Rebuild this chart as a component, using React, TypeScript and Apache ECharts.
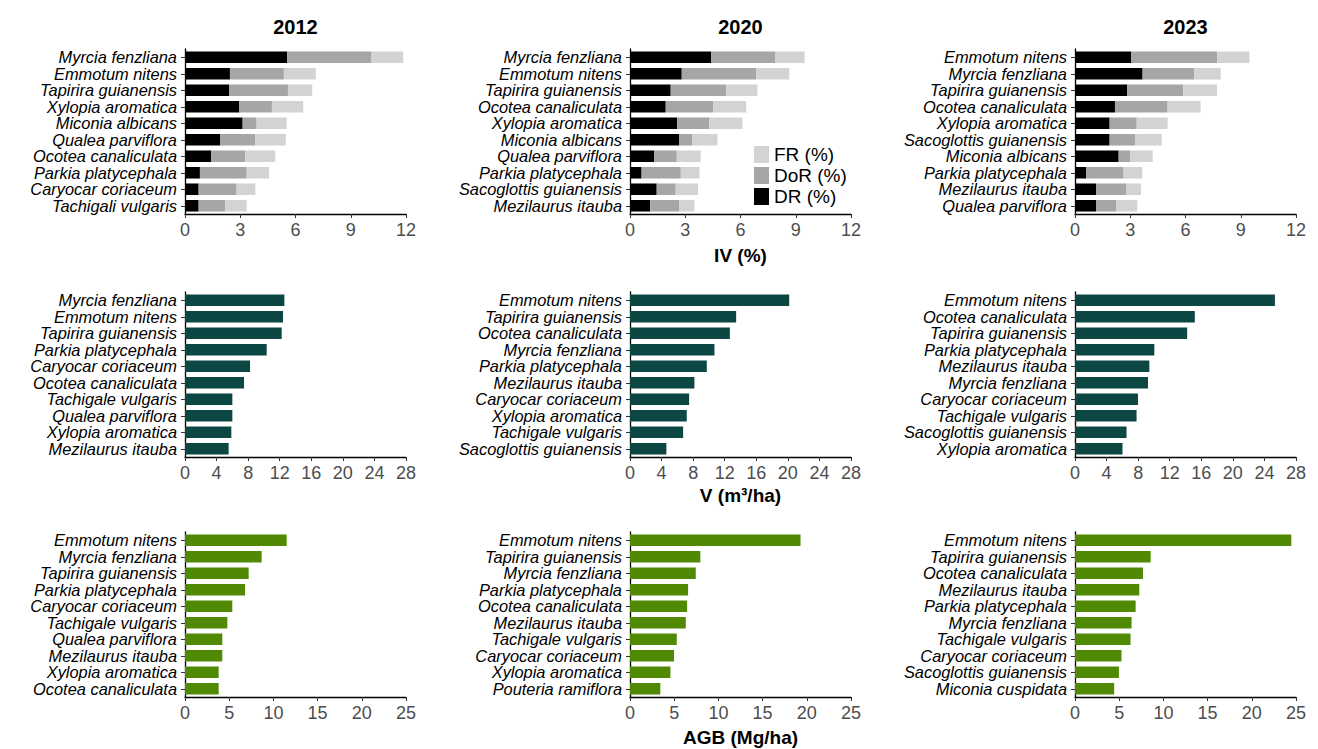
import React, { useEffect, useRef } from "react";
import * as echarts from "echarts";

// ---------- DATA ----------
const years = ["2012", "2020", "2023"];

// IV (%) panels: DR, DoR, FR components
const ivSpecies2012 = ["Myrcia fenzliana", "Emmotum nitens", "Tapirira guianensis", "Xylopia aromatica", "Miconia albicans", "Qualea parviflora", "Ocotea canaliculata", "Parkia platycephala", "Caryocar coriaceum", "Tachigali vulgaris"];
const dr2012 = [5.55, 2.44, 2.39, 2.95, 3.13, 1.92, 1.43, 0.81, 0.74, 0.74];
const dor2012 = [4.58, 2.93, 3.2, 1.77, 0.76, 1.9, 1.84, 2.54, 2.06, 1.45];
const fr2012 = [1.72, 1.73, 1.32, 1.7, 1.63, 1.65, 1.63, 1.21, 1.02, 1.16];

const ivSpecies2020 = ["Myrcia fenzliana", "Emmotum nitens", "Tapirira guianensis", "Ocotea canaliculata", "Xylopia aromatica", "Miconia albicans", "Qualea parviflora", "Parkia platycephala", "Sacoglottis guianensis", "Mezilaurus itauba"];
const dr2020 = [4.4, 2.81, 2.21, 1.94, 2.56, 2.68, 1.32, 0.63, 1.45, 1.1];
const dor2020 = [3.5, 4.04, 3.01, 2.59, 1.75, 0.71, 1.22, 2.13, 1.03, 1.58];
const fr2020 = [1.58, 1.8, 1.7, 1.78, 1.8, 1.36, 1.3, 1.01, 1.22, 0.82];

const ivSpecies2023 = ["Emmotum nitens", "Myrcia fenzliana", "Tapirira guianensis", "Ocotea canaliculata", "Xylopia aromatica", "Sacoglottis guianensis", "Miconia albicans", "Parkia platycephala", "Mezilaurus itauba", "Qualea parviflora"];
const dr2023 = [3.06, 3.67, 2.84, 2.17, 1.88, 1.88, 2.37, 0.6, 1.14, 1.14];
const dor2023 = [4.67, 2.81, 3.04, 2.86, 1.47, 1.38, 0.62, 2.04, 1.63, 1.09];
const fr2023 = [1.74, 1.43, 1.83, 1.79, 1.68, 1.45, 1.23, 1.01, 0.81, 1.15];

// V (m³/ha)
const vSpecies2012 = ["Myrcia fenzliana", "Emmotum nitens", "Tapirira guianensis", "Parkia platycephala", "Caryocar coriaceum", "Ocotea canaliculata", "Tachigale vulgaris", "Qualea parviflora", "Xylopia aromatica", "Mezilaurus itauba"];
const v2012 = [12.59, 12.42, 12.25, 10.35, 8.24, 7.48, 6.0, 6.0, 5.87, 5.53];
const vSpecies2020 = ["Emmotum nitens", "Tapirira guianensis", "Ocotea canaliculata", "Myrcia fenzliana", "Parkia platycephala", "Mezilaurus itauba", "Caryocar coriaceum", "Xylopia aromatica", "Tachigale vulgaris", "Sacoglottis guianensis"];
const v2020 = [20.17, 13.45, 12.65, 10.7, 9.73, 8.16, 7.49, 7.19, 6.73, 4.61];
const vSpecies2023 = ["Emmotum nitens", "Ocotea canaliculata", "Tapirira guianensis", "Parkia platycephala", "Mezilaurus itauba", "Myrcia fenzliana", "Caryocar coriaceum", "Tachigale vulgaris", "Sacoglottis guianensis", "Xylopia aromatica"];
const v2023 = [25.33, 15.18, 14.21, 10.05, 9.42, 9.25, 7.98, 7.8, 6.53, 6.02];

// AGB (Mg/ha)
const agbSpecies2012 = ["Emmotum nitens", "Myrcia fenzliana", "Tapirira guianensis", "Parkia platycephala", "Caryocar coriaceum", "Tachigale vulgaris", "Qualea parviflora", "Mezilaurus itauba", "Xylopia aromatica", "Ocotea canaliculata"];
const agb2012 = [11.5, 8.67, 7.2, 6.79, 5.35, 4.79, 4.22, 4.22, 3.81, 3.81];
const agbSpecies2020 = ["Emmotum nitens", "Tapirira guianensis", "Myrcia fenzliana", "Parkia platycephala", "Ocotea canaliculata", "Mezilaurus itauba", "Tachigale vulgaris", "Caryocar coriaceum", "Xylopia aromatica", "Pouteria ramiflora"];
const agb2020 = [19.29, 7.96, 7.44, 6.57, 6.46, 6.31, 5.29, 4.98, 4.57, 3.43];
const agbSpecies2023 = ["Emmotum nitens", "Tapirira guianensis", "Ocotea canaliculata", "Mezilaurus itauba", "Parkia platycephala", "Myrcia fenzliana", "Tachigale vulgaris", "Caryocar coriaceum", "Sacoglottis guianensis", "Miconia cuspidata"];
const agb2023 = [24.47, 8.56, 7.69, 7.27, 6.86, 6.4, 6.28, 5.26, 4.97, 4.43];

const axisTitles = ["IV (%)", "V (m³/ha)", "AGB (Mg/ha)"];
const legendNames = ["FR (%)", "DoR (%)", "DR (%)"];

// ---------- STYLE ----------
const FONT = "Liberation Sans, Arial, sans-serif";
const COLS = [185, 630, 1075];
const PW = 221;
const ROWS = [
  { top: 49, height: 165 },
  { top: 292, height: 165 },
  { top: 532, height: 165 },
];
const C_DR = "#000000";
const C_DOR = "#a6a6a6";
const C_FR = "#d3d3d3";
const C_V = "#0d4744";
const C_AGB = "#508a04";

export default function App() {
  const ref = useRef<HTMLDivElement>(null);

  useEffect(() => {
    if (!ref.current) return;
    const chart = echarts.init(ref.current, undefined, { renderer: "svg" });

    const grids: any[] = [];
    const xAxes: any[] = [];
    const yAxes: any[] = [];
    const series: any[] = [];

    const ivPanels = [
      { sp: ivSpecies2012, dr: dr2012, dor: dor2012, fr: fr2012 },
      { sp: ivSpecies2020, dr: dr2020, dor: dor2020, fr: fr2020 },
      { sp: ivSpecies2023, dr: dr2023, dor: dor2023, fr: fr2023 },
    ];
    const vPanels = [
      { sp: vSpecies2012, v: v2012 },
      { sp: vSpecies2020, v: v2020 },
      { sp: vSpecies2023, v: v2023 },
    ];
    const agbPanels = [
      { sp: agbSpecies2012, v: agb2012 },
      { sp: agbSpecies2020, v: agb2020 },
      { sp: agbSpecies2023, v: agb2023 },
    ];
    const rowScales = [
      { max: 12, interval: 3 },
      { max: 28, interval: 4 },
      { max: 25, interval: 5 },
    ];

    const addPanel = (r: number, c: number, cats: string[]) => {
      const idx = grids.length;
      grids.push({ left: COLS[c], top: ROWS[r].top, width: PW, height: ROWS[r].height, containLabel: false });
      xAxes.push({
        type: "value",
        gridIndex: idx,
        min: 0,
        max: rowScales[r].max,
        interval: rowScales[r].interval,
        splitLine: { show: false },
        axisLine: { show: true, onZero: false, lineStyle: { color: "#000", width: 1.3 } },
        axisTick: { show: true, length: 4, lineStyle: { color: "#333", width: 1 } },
        axisLabel: { color: "#4d4d4d", fontSize: 18, fontFamily: FONT, margin: 7 },
      });
      yAxes.push({
        type: "category",
        gridIndex: idx,
        data: cats,
        inverse: true,
        axisLine: { show: true, lineStyle: { color: "#000", width: 1.3 } },
        axisTick: { show: true, alignWithLabel: true, interval: 0, length: 4, lineStyle: { color: "#333", width: 1 } },
        axisLabel: {
          interval: 0,
          hideOverlap: false,
          color: "#000",
          fontSize: 16.4,
          lineHeight: 16,
          fontStyle: "italic",
          fontFamily: FONT,
          margin: 8,
        },
        splitLine: { show: false },
      });
      return idx;
    };

    ivPanels.forEach((p, c) => {
      const idx = addPanel(0, c, p.sp);
      const stack = "iv" + c;
      const parts: [string, number[], string][] = [
        ["DR (%)", p.dr, C_DR],
        ["DoR (%)", p.dor, C_DOR],
        ["FR (%)", p.fr, C_FR],
      ];
      parts.forEach(([name, data, color]) => {
        series.push({
          type: "bar",
          name,
          xAxisIndex: idx,
          yAxisIndex: idx,
          stack,
          data,
          barWidth: "70%",
          itemStyle: { color },
          silent: true,
        });
      });
    });

    vPanels.forEach((p, c) => {
      const idx = addPanel(1, c, p.sp);
      series.push({
        type: "bar",
        name: "V" + c,
        xAxisIndex: idx,
        yAxisIndex: idx,
        data: p.v,
        barWidth: "70%",
        itemStyle: { color: C_V },
        silent: true,
      });
    });

    agbPanels.forEach((p, c) => {
      const idx = addPanel(2, c, p.sp);
      series.push({
        type: "bar",
        name: "AGB" + c,
        xAxisIndex: idx,
        yAxisIndex: idx,
        data: p.v,
        barWidth: "70%",
        itemStyle: { color: C_AGB },
        silent: true,
      });
    });

    const centers = COLS.map((l) => l + PW / 2);
    const graphics: any[] = [];
    years.forEach((y, i) => {
      graphics.push({
        type: "text",
        x: centers[i],
        y: 27,
        style: {
          text: y,
          font: `bold 20px ${FONT}`,
          fill: "#000",
          textAlign: "center",
          textVerticalAlign: "middle",
          align: "center",
          verticalAlign: "middle",
        },
      });
    });
    const titleY = [255, 495, 737];
    axisTitles.forEach((t, i) => {
      graphics.push({
        type: "text",
        x: centers[1],
        y: titleY[i],
        style: {
          text: t,
          font: `bold 19px ${FONT}`,
          fill: "#000",
          textAlign: "center",
          textVerticalAlign: "middle",
          align: "center",
          verticalAlign: "middle",
        },
      });
    });

    chart.setOption({
      animation: false,
      backgroundColor: "#ffffff",
      grid: grids,
      xAxis: xAxes,
      yAxis: yAxes,
      series,
      legend: {
        data: legendNames,
        orient: "vertical",
        left: 754,
        top: 145,
        padding: 0,
        itemWidth: 15,
        itemHeight: 17,
        itemGap: 2,
        icon: "rect",
        selectedMode: false,
        textStyle: { fontSize: 19, color: "#000", fontFamily: FONT },
      },
      graphic: graphics,
    });

    return () => chart.dispose();
  }, []);

  return (
    <div
      ref={ref}
      style={{ position: "fixed", left: 0, top: 0, width: 1318, height: 749, background: "#fff" }}
    />
  );
}
